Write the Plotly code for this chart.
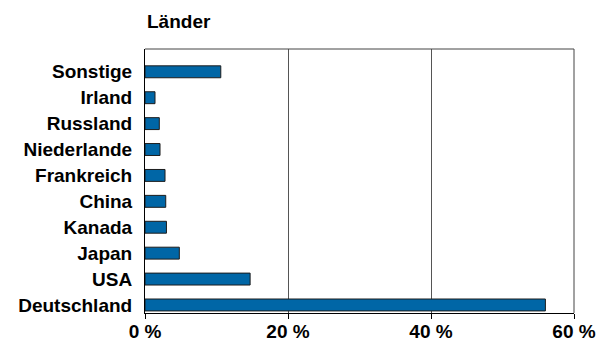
import plotly.graph_objects as go

# Anteile nach Ländern (in %)
laender = ["Deutschland", "USA", "Japan", "Kanada", "China", "Frankreich",
           "Niederlande", "Russland", "Irland", "Sonstige"]
anteile = [56.0, 14.7, 4.8, 3.0, 2.9, 2.8, 2.1, 2.0, 1.4, 10.6]

x_ticks = [0, 20, 40, 60]
x_labels = ["0 %", "20 %", "40 %", "60 %"]

FONT = "Liberation Sans, Arial, sans-serif"
FS = 19

fig = go.Figure(
    go.Bar(
        x=anteile,
        y=laender,
        orientation="h",
        marker=dict(color="#0066A6", line=dict(color="#1c1c1c", width=1)),
        width=0.46,
        hoverinfo="skip",
    )
)

fig.update_layout(
    width=598,
    height=343,
    margin=dict(l=145, r=24, t=49, b=30, autoexpand=False),
    paper_bgcolor="white",
    plot_bgcolor="white",
    showlegend=False,
    font=dict(family=FONT, size=FS, color="black"),
    annotations=[
        dict(
            text="<b>Länder</b>",
            x=0, xref="paper", xanchor="left",
            y=1, yref="paper", yanchor="middle", yshift=28,
            showarrow=False,
            font=dict(family=FONT, size=FS, color="black"),
        )
    ],
    shapes=[
        # obere und rechte Rahmenlinie
        dict(type="line", xref="paper", yref="paper", x0=0, x1=1, y0=1, y1=1,
             line=dict(color="#444444", width=1)),
        dict(type="line", xref="paper", yref="paper", x0=1, x1=1, y0=0, y1=1,
             line=dict(color="#444444", width=1)),
    ],
)

fig.update_xaxes(
    range=[0, 60],
    tickvals=x_ticks,
    ticktext=["<b>%s</b>" % t for t in x_labels],
    showgrid=True,
    gridcolor="#555555",
    gridwidth=1,
    showline=True,
    linecolor="black",
    linewidth=1,
    ticks="outside",
    ticklen=5,
    tickcolor="black",
    ticklabelstandoff=-4,
    zeroline=False,
    automargin=False,
    tickfont=dict(family=FONT, size=FS, color="black"),
    fixedrange=True,
)

fig.update_yaxes(
    categoryorder="array",
    categoryarray=laender,
    tickvals=laender,
    ticktext=["<b>%s</b>" % l for l in laender],
    range=[-0.31, 9.88],
    showline=True,
    linecolor="black",
    linewidth=1,
    showgrid=False,
    ticks="",
    ticklabelstandoff=8,
    automargin=False,
    tickfont=dict(family=FONT, size=FS, color="black"),
    fixedrange=True,
)

fig.write_html("out.html")
